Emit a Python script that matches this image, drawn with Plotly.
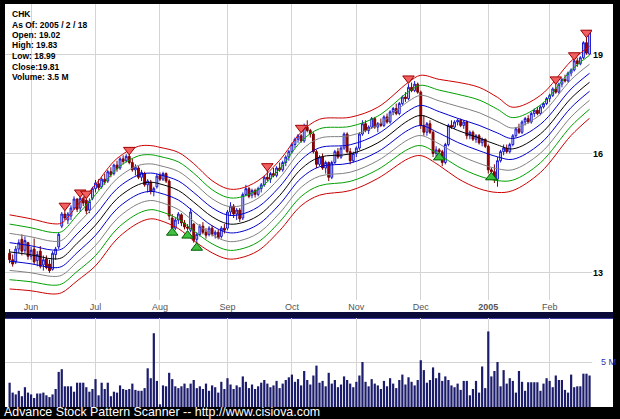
import math
import pandas as pd
import plotly.graph_objects as go

# ---------------- data ----------------
ticker = "CHK"
holidays = ["2004-05-31", "2004-06-11", "2004-07-05", "2004-09-06",
            "2004-11-25", "2004-12-24", "2005-01-17"]
dates = [d for d in pd.bdate_range("2004-05-20", "2005-02-18")
         if d.strftime("%Y-%m-%d") not in holidays]

opens = [13.45,13.30,13.25,13.55,13.78,13.52,13.70,13.38,13.55,13.28,13.50,13.18,13.32,13.20,13.08,13.42,13.60,14.10,14.40,14.25,
         14.35,14.55,14.78,14.55,14.80,14.75,14.50,14.80,15.05,15.18,15.10,15.30,15.25,15.50,15.45,15.68,15.60,15.85,15.80,15.92,
         15.75,15.55,15.60,15.35,15.45,15.15,15.22,14.98,15.10,15.40,15.30,15.45,15.25,14.30,14.05,14.25,14.38,14.18,14.08,14.00,
         14.15,13.78,13.90,14.10,13.95,13.90,14.05,13.90,13.95,13.85,14.05,14.05,14.45,14.60,14.40,14.50,14.30,14.90,15.05,14.88,
         15.00,14.90,15.05,15.15,15.35,15.30,15.45,15.40,15.60,15.55,15.75,15.90,16.05,16.25,16.40,16.50,16.35,16.75,16.65,16.55,
         16.05,15.70,15.90,15.60,15.75,15.35,15.75,16.05,15.90,16.15,16.55,16.05,15.80,16.00,16.15,16.55,16.85,16.65,16.75,17.00,
         16.75,16.85,16.80,17.05,16.90,17.20,17.30,17.15,17.45,17.65,17.60,17.95,17.85,18.05,17.80,16.80,16.60,16.85,16.60,16.00,
         16.10,16.05,15.75,16.25,16.80,16.75,16.90,16.95,16.80,16.90,16.50,16.60,16.40,16.50,16.30,16.40,16.20,15.55,15.50,15.30,
         15.80,16.05,16.15,16.05,16.25,16.50,16.70,16.60,16.90,17.00,16.90,17.15,17.25,17.15,17.35,17.45,17.60,17.70,17.90,17.80,
         18.05,18.20,18.15,18.40,18.50,18.80,18.70,18.90,19.40,19.02]
highs = [13.55,13.42,13.62,13.78,13.90,13.85,13.72,13.60,13.80,13.50,13.62,13.40,13.40,13.30,13.50,13.60,13.95,14.45,14.50,14.45,
         14.62,14.85,14.80,14.85,14.85,14.82,14.80,15.10,15.28,15.30,15.35,15.45,15.55,15.62,15.72,15.80,15.90,15.95,15.98,16.00,
         15.85,15.70,15.65,15.55,15.50,15.30,15.28,15.10,15.45,15.48,15.50,15.48,15.30,14.40,14.30,14.45,14.42,14.25,14.15,14.55,
         14.18,13.95,14.15,14.20,14.05,14.10,14.12,14.00,14.02,14.10,14.15,14.50,14.70,14.65,14.55,14.55,14.95,15.15,15.10,15.05,
         15.05,15.10,15.20,15.40,15.55,15.50,15.60,15.65,15.75,15.80,15.95,16.10,16.30,16.45,16.55,16.55,16.85,16.95,16.70,16.60,
         16.10,15.95,16.00,15.80,15.78,15.80,16.10,16.15,16.20,16.60,16.60,16.15,16.05,16.20,16.60,16.95,16.95,16.80,17.05,17.05,
         16.90,17.00,17.10,17.15,17.25,17.35,17.45,17.50,17.70,17.80,18.05,18.10,18.15,18.10,17.85,17.10,16.90,16.95,16.65,16.20,
         16.15,16.10,16.30,16.85,16.95,16.95,17.00,17.00,16.95,16.95,16.65,16.65,16.55,16.55,16.45,16.42,16.25,15.60,15.70,15.90,
         16.10,16.25,16.25,16.30,16.55,16.75,16.85,16.95,17.05,17.10,17.20,17.30,17.35,17.40,17.50,17.65,17.75,17.95,18.05,18.10,
         18.25,18.35,18.45,18.55,18.85,18.90,18.95,19.45,19.60,19.83]
lows = [13.22,13.14,13.20,13.45,13.40,13.45,13.30,13.30,13.20,13.15,13.10,13.05,13.08,13.00,13.05,13.30,13.55,14.05,14.25,14.15,
        14.25,14.50,14.45,14.45,14.60,14.40,14.42,14.75,14.95,15.02,15.05,15.15,15.20,15.35,15.40,15.50,15.55,15.70,15.75,15.70,
        15.50,15.40,15.30,15.25,15.10,14.95,14.90,14.85,15.05,15.25,15.25,15.20,14.25,14.02,14.00,14.15,14.10,14.02,14.00,13.95,
        13.70,13.68,13.85,13.90,13.80,13.85,13.85,13.80,13.78,13.80,13.92,14.00,14.35,14.30,14.25,14.20,14.25,14.85,14.80,14.80,
        14.82,14.85,14.95,15.10,15.25,15.20,15.35,15.35,15.50,15.50,15.65,15.80,16.00,16.15,16.30,16.30,16.30,16.60,16.45,16.00,
        15.60,15.65,15.55,15.45,15.25,15.30,15.70,15.85,15.85,16.10,16.00,15.70,15.75,15.90,16.10,16.50,16.60,16.55,16.70,16.70,
        16.60,16.75,16.75,16.85,16.85,17.10,17.10,17.10,17.40,17.50,17.55,17.80,17.80,17.75,16.70,16.50,16.50,16.55,15.90,15.90,
        16.00,15.65,15.70,16.20,16.70,16.70,16.80,16.75,16.70,16.40,16.40,16.35,16.30,16.25,16.20,16.15,15.45,15.45,15.20,15.10,
        15.75,15.95,16.00,16.00,16.20,16.45,16.55,16.55,16.80,16.85,16.85,17.05,17.10,17.10,17.30,17.40,17.50,17.65,17.75,17.75,
        17.95,18.10,18.10,18.30,18.45,18.60,18.65,18.85,19.00,18.99]
closes = [13.30,13.20,13.55,13.70,13.50,13.75,13.38,13.52,13.25,13.42,13.15,13.30,13.12,13.05,13.45,13.55,13.90,14.40,14.30,14.40,
          14.55,14.78,14.52,14.80,14.68,14.48,14.72,15.05,15.20,15.08,15.30,15.22,15.50,15.42,15.68,15.58,15.85,15.78,15.92,15.75,
          15.55,15.62,15.35,15.48,15.15,15.25,14.98,15.05,15.38,15.30,15.45,15.25,14.35,14.05,14.25,14.40,14.18,14.08,14.05,14.45,
          13.75,13.90,14.10,13.95,13.88,14.05,13.90,13.95,13.82,14.05,14.00,14.45,14.60,14.40,14.50,14.28,14.90,15.05,14.85,15.00,
          14.90,15.05,15.15,15.35,15.30,15.45,15.40,15.60,15.55,15.75,15.90,16.05,16.25,16.40,16.50,16.35,16.75,16.65,16.55,16.05,
          15.70,15.90,15.60,15.75,15.35,15.75,16.05,15.90,16.15,16.55,16.05,15.80,16.00,16.15,16.55,16.85,16.65,16.75,17.00,16.75,
          16.85,16.80,17.05,16.90,17.20,17.30,17.15,17.45,17.65,17.60,17.95,17.85,18.05,17.80,16.80,16.60,16.85,16.60,16.00,16.10,
          16.05,15.75,16.25,16.80,16.75,16.90,16.95,16.80,16.90,16.50,16.60,16.40,16.50,16.30,16.40,16.20,15.55,15.50,15.30,15.80,
          16.05,16.15,16.05,16.25,16.50,16.70,16.60,16.90,17.00,16.90,17.15,17.25,17.15,17.35,17.45,17.60,17.70,17.90,17.80,18.05,
          18.20,18.15,18.40,18.50,18.80,18.70,18.90,19.40,19.05,19.81]
volumes_m = [2.7,1.6,1.4,1.8,1.2,2.2,1.6,1.4,1.0,1.5,1.5,1.6,1.3,1.1,1.4,2.0,3.9,4.2,2.3,2.3,
             2.3,1.7,2.7,2.7,2.7,2.2,1.7,2.0,3.1,1.3,2.7,2.0,2.7,1.2,1.7,1.6,2.4,2.0,1.9,2.0,
             2.6,1.9,1.8,1.8,2.1,4.3,3.2,8.2,2.9,0.3,2.4,2.3,3.8,3.1,2.3,2.1,2.3,2.6,2.1,2.6,
             3.0,2.1,2.3,2.0,2.6,1.8,2.4,2.2,1.6,2.8,2.0,3.2,2.5,2.0,2.4,2.2,3.4,2.8,2.1,2.5,
             2.0,2.3,2.7,3.0,2.6,2.2,2.4,2.9,2.1,2.6,3.0,3.3,3.6,2.8,3.1,2.4,4.0,3.0,2.5,3.5,
             4.6,2.7,2.9,2.3,3.8,2.6,3.0,2.2,2.5,3.4,3.0,2.6,2.2,2.8,3.5,5.0,2.8,2.3,3.1,2.6,
             2.4,2.0,2.9,2.3,3.2,2.6,2.1,3.0,3.6,2.5,3.3,2.8,2.4,3.0,5.2,4.1,2.7,3.0,4.4,3.2,
             3.8,2.9,3.4,3.0,2.4,2.2,2.6,1.9,2.9,2.9,1.3,2.0,2.9,1.6,4.5,2.1,8.4,3.4,4.0,5.0,
             2.3,4.1,2.6,3.2,2.9,1.6,4.0,2.8,1.8,2.75,2.75,2.75,2.75,1.8,2.6,3.2,2.9,2.2,3.5,3.0,
             3.0,1.9,1.6,3.6,2.2,2.3,2.3,3.7,3.7,3.5]

# envelope bands: outer upper / lower curves at knot days, inner lines evenly spaced between
band_knots = [0, 7, 14, 17, 22, 28, 35, 42, 46, 49, 55, 60, 66, 71, 75, 81, 88, 95, 101, 111,
              120, 130, 134, 140, 146, 153, 159, 164, 173, 183, 189]
band_upper = [14.38, 14.28, 14.16, 14.18, 14.61, 15.16, 15.86, 16.20, 16.22, 16.17, 16.03, 15.72, 15.26, 15.05,
              15.05, 15.26, 15.81, 16.60, 16.98, 17.04, 17.34, 18.11, 18.33, 18.20, 18.11, 17.95, 17.64, 17.34,
              17.70, 18.79, 19.28]
band_lower = [12.64, 12.60, 12.53, 12.56, 12.82, 13.16, 13.79, 14.18, 14.28, 14.24, 14.04, 13.75, 13.46, 13.32,
              13.34, 13.51, 13.99, 14.61, 14.88, 15.00, 15.32, 15.86, 15.94, 15.67, 15.32, 15.05, 14.95, 15.00,
              15.48, 16.51, 17.01]
band_colors = ["#cc0000", "#00a000", "#808080", "#0000cc", "#000000", "#0000cc", "#808080", "#00a000", "#cc0000"]

sell_days = [18, 23, 25, 39, 84, 95, 130, 178, 184, 188]
sell_marks = [14.61, 14.95, 14.92, 16.10, 15.65, 16.73, 18.23, 18.20, 18.98, 19.74]
buy_days = [53, 58, 61, 140, 157]
buy_marks = [13.94, 13.87, 13.58, 15.89, 15.35]

price_ticks = [13, 16, 19]
info_lines = ["CHK", "As Of: 2005 / 2 / 18", "Open: 19.02", "High: 19.83",
              "Low: 18.99", "Close:19.81", "Volume: 3.5 M"]
footer = "Advance Stock Pattern Scanner -- http://www.cisiova.com"

# ---------------- figure ----------------
W, H = 620, 419
def px_x(p): return p / W
def px_y(p): return 1 - p / H

x = list(range(len(dates)))
tick_pos, tick_txt = [], []
for i in range(1, len(dates)):
    if dates[i].month != dates[i - 1].month:
        tick_pos.append(i)
        tick_txt.append("<b>%d</b>" % dates[i].year if dates[i].month == 1 else dates[i].strftime("%b"))

fig = go.Figure()

# bands
for k in range(9):
    yy = [math.exp(math.log(lo) + k / 8 * (math.log(up) - math.log(lo))) for up, lo in zip(band_upper, band_lower)]
    fig.add_trace(go.Scatter(x=band_knots, y=yy, mode="lines",
                             line=dict(color=band_colors[k], width=1, shape="spline", smoothing=1.0),
                             hoverinfo="skip", xaxis="x", yaxis="y"))

fig.add_trace(go.Candlestick(x=x, open=opens, high=highs, low=lows, close=closes,
                             increasing=dict(line=dict(color="#1a1acc", width=1), fillcolor="#dde0ff"),
                             decreasing=dict(line=dict(color="#7a0000", width=1), fillcolor="#9a0000"),
                             whiskerwidth=0, xaxis="x", yaxis="y", hoverinfo="skip"))

fig.add_trace(go.Scatter(x=sell_days, y=sell_marks, mode="markers",
                         marker=dict(symbol="triangle-down", size=10, color="#f06060",
                                     line=dict(color="#a00000", width=1)),
                         xaxis="x", yaxis="y", hoverinfo="skip"))
fig.add_trace(go.Scatter(x=buy_days, y=buy_marks, mode="markers",
                         marker=dict(symbol="triangle-up", size=10, color="#40c040",
                                     line=dict(color="#006000", width=1)),
                         xaxis="x", yaxis="y", hoverinfo="skip"))

fig.add_trace(go.Bar(x=x, y=volumes_m, marker=dict(color="#1c1c6c", line=dict(width=0)),
                     width=0.72, xaxis="x2", yaxis="y2", hoverinfo="skip"))

xdom = [px_x(5), px_x(592)]
xr = [-1.5, 189.8]
grid = "#d4d4d4"

fig.update_layout(
    width=W, height=H, margin=dict(l=0, r=0, t=0, b=0),
    paper_bgcolor="#000000", plot_bgcolor="#ffffff",
    showlegend=False, boxgap=0.15,
    font=dict(family="Liberation Sans, Arial, sans-serif"),
    xaxis=dict(domain=xdom, range=xr, anchor="y", tickvals=tick_pos, ticktext=tick_txt,
               tickfont=dict(size=9, color="#555555"), ticks="", showgrid=True, gridcolor=grid,
               zeroline=False, showline=False, rangeslider=dict(visible=False), automargin=False),
    yaxis=dict(domain=[px_y(300), px_y(4)], type="log",
               range=[math.log10(12.40), math.log10(20.75)], side="right", anchor="x",
               tickvals=price_ticks, ticktext=["<b>%d</b>" % v for v in price_ticks],
               tickfont=dict(size=9, color="#000000"), ticks="", showgrid=True, gridcolor=grid,
               zeroline=False, showline=False, automargin=False),
    xaxis2=dict(domain=xdom, range=xr, anchor="y2", tickvals=tick_pos, showticklabels=False,
                ticks="", showgrid=True, gridcolor=grid, zeroline=False, showline=False, automargin=False),
    yaxis2=dict(domain=[px_y(407), px_y(318)], range=[0, 9.89], side="right", anchor="x2",
                tickvals=[5], ticktext=["5 M"], tickfont=dict(size=9, color="#3333aa"), ticks="",
                ticklabelstandoff=8,
                showgrid=True, gridcolor=grid, zeroline=False, showline=False, automargin=False),
)

shapes = [
    dict(type="rect", xref="paper", yref="paper", x0=px_x(5), x1=px_x(613), y0=px_y(312), y1=px_y(4),
         fillcolor="#ffffff", line=dict(width=0), layer="below"),
    dict(type="rect", xref="paper", yref="paper", x0=px_x(5), x1=px_x(613), y0=px_y(407), y1=px_y(318),
         fillcolor="#ffffff", line=dict(width=0), layer="below"),
    dict(type="rect", xref="paper", yref="paper", x0=px_x(5), x1=px_x(613), y0=px_y(318), y1=px_y(312),
         fillcolor="#0a0a3a", line=dict(width=0), layer="below"),
    dict(type="line", xref="paper", yref="paper", x0=px_x(5), x1=px_x(613), y0=px_y(318.5), y1=px_y(318.5),
         line=dict(color="#3a3aa0", width=1), layer="below"),
]
fig.update_layout(shapes=shapes)

ann = []
for i, t in enumerate(info_lines):
    ann.append(dict(text="<b>%s</b>" % t, xref="paper", yref="paper", x=px_x(10), y=px_y(14 + i * 10.5),
                    xanchor="left", yanchor="middle", showarrow=False,
                    font=dict(size=8.5, color="#000000")))
ann.append(dict(text=footer, xref="paper", yref="paper", x=px_x(2), y=px_y(412),
                xanchor="left", yanchor="middle", showarrow=False,
                font=dict(size=12.4, color="#ffffff")))
fig.update_layout(annotations=ann)

fig.write_html("out.html", config={"displayModeBar": False, "staticPlot": True},
               post_script="document.body.style.margin='0';document.body.style.overflow='hidden';document.body.style.background='#000';")
